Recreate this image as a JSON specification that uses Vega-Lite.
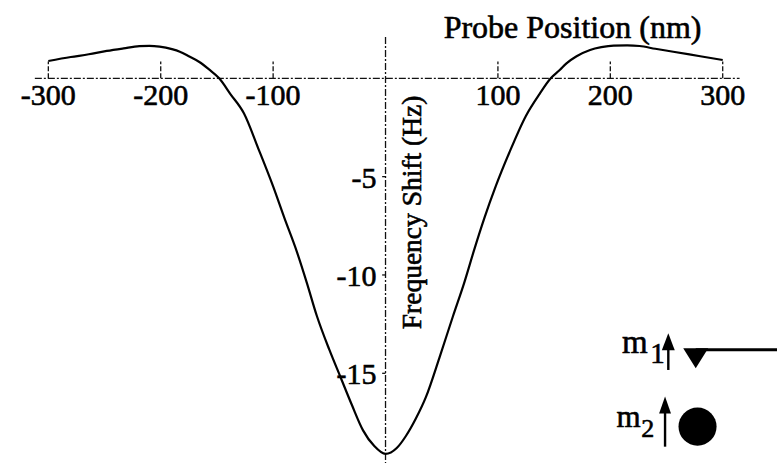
{
  "$schema": "https://vega.github.io/schema/vega-lite/v6.json",
  "width": 777,
  "height": 463,
  "padding": 0,
  "autosize": {"type": "none"},
  "background": "white",
  "config": {"view": {"stroke": null}, "text": {"font": "Liberation Serif", "color": "black", "stroke": "black", "strokeWidth": 0.6}},
  "data": {"values": [{}]},
  "datasets": {
    "curve": [
      {"x": -300, "y": 0.88}, {"x": -280, "y": 1.08}, {"x": -264, "y": 1.22}, {"x": -248, "y": 1.39},
      {"x": -233, "y": 1.52}, {"x": -219, "y": 1.63}, {"x": -210, "y": 1.65}, {"x": -201, "y": 1.61},
      {"x": -190, "y": 1.48}, {"x": -183, "y": 1.35}, {"x": -175, "y": 1.12}, {"x": -166, "y": 0.84},
      {"x": -157, "y": 0.45}, {"x": -148, "y": 0.0}, {"x": -138, "y": -0.8}, {"x": -126, "y": -1.78},
      {"x": -113, "y": -3.6}, {"x": -100, "y": -5.5}, {"x": -90, "y": -7.1}, {"x": -79, "y": -8.8},
      {"x": -70, "y": -10.4}, {"x": -61, "y": -12.1}, {"x": -50, "y": -13.8}, {"x": -40, "y": -15.2},
      {"x": -30, "y": -16.6}, {"x": -20, "y": -17.9}, {"x": -10, "y": -18.7}, {"x": 0, "y": -19.1},
      {"x": 10, "y": -18.8}, {"x": 18, "y": -18.2}, {"x": 27, "y": -17.3}, {"x": 36, "y": -16.2},
      {"x": 48, "y": -14.2}, {"x": 60, "y": -12.1}, {"x": 70, "y": -10.4}, {"x": 79, "y": -8.7},
      {"x": 88, "y": -7.1}, {"x": 98, "y": -5.5}, {"x": 110, "y": -3.8}, {"x": 125, "y": -1.9},
      {"x": 137, "y": -0.8}, {"x": 147, "y": 0.0}, {"x": 155, "y": 0.42}, {"x": 161, "y": 0.76},
      {"x": 170, "y": 1.12}, {"x": 182, "y": 1.44}, {"x": 192, "y": 1.58}, {"x": 203, "y": 1.66},
      {"x": 215, "y": 1.67}, {"x": 226, "y": 1.64}, {"x": 240, "y": 1.5}, {"x": 256, "y": 1.35},
      {"x": 280, "y": 1.12}, {"x": 300, "y": 0.93}
    ],
    "xticks": [
      {"v": -300, "label": "-300"}, {"v": -200, "label": "-200"}, {"v": -100, "label": "-100"},
      {"v": 100, "label": "100"}, {"v": 200, "label": "200"}, {"v": 300, "label": "300"}
    ],
    "yticks": [
      {"v": -5, "label": "-5"}, {"v": -10, "label": "-10"}, {"v": -15, "label": "-15"}
    ]
  },
  "layer": [
    {
      "mark": {"type": "rule", "stroke": "#111", "strokeWidth": 1.3, "strokeDash": [7, 2, 2, 2]},
      "encoding": {
        "x": {"datum": -312, "type": "quantitative", "scale": {"domain": [-343, 348.3], "nice": false, "zero": false}, "axis": null},
        "x2": {"datum": 315},
        "y": {"datum": 0, "type": "quantitative", "scale": {"domain": [-19.56, 3.98], "nice": false, "zero": false}, "axis": null}
      }
    },
    {
      "mark": {"type": "rule", "stroke": "#111", "strokeWidth": 1.3, "strokeDash": [7, 2, 2, 2]},
      "encoding": {
        "x": {"datum": 0, "type": "quantitative", "scale": {"domain": [-343, 348.3], "nice": false, "zero": false}, "axis": null},
        "y": {"datum": 2.1, "type": "quantitative", "scale": {"domain": [-19.56, 3.98], "nice": false, "zero": false}, "axis": null},
        "y2": {"datum": -19.6}
      }
    },
    {
      "data": {"name": "xticks"},
      "mark": {"type": "rule", "stroke": "#111", "strokeWidth": 1.3, "strokeDash": [5, 2]},
      "encoding": {
        "x": {"field": "v", "type": "quantitative", "scale": {"domain": [-343, 348.3], "nice": false, "zero": false}, "axis": null},
        "y": {"datum": 0, "type": "quantitative", "scale": {"domain": [-19.56, 3.98], "nice": false, "zero": false}, "axis": null},
        "y2": {"datum": 0.85}
      }
    },
    {
      "data": {"name": "xticks"},
      "mark": {"type": "text", "fontSize": 30, "align": "center", "baseline": "alphabetic"},
      "encoding": {
        "x": {"field": "v", "type": "quantitative", "scale": {"domain": [-343, 348.3], "nice": false, "zero": false}, "axis": null},
        "y": {"datum": -1.36, "type": "quantitative", "scale": {"domain": [-19.56, 3.98], "nice": false, "zero": false}, "axis": null},
        "text": {"field": "label"}
      }
    },
    {
      "data": {"name": "yticks"},
      "mark": {"type": "rule", "stroke": "#111", "strokeWidth": 1.3},
      "encoding": {
        "x": {"datum": -3, "type": "quantitative", "scale": {"domain": [-343, 348.3], "nice": false, "zero": false}, "axis": null},
        "x2": {"datum": 0},
        "y": {"field": "v", "type": "quantitative", "scale": {"domain": [-19.56, 3.98], "nice": false, "zero": false}, "axis": null}
      }
    },
    {
      "data": {"name": "yticks"},
      "mark": {"type": "text", "fontSize": 30, "align": "right", "baseline": "middle", "dx": -9, "dy": 2},
      "encoding": {
        "x": {"datum": 0, "type": "quantitative", "scale": {"domain": [-343, 348.3], "nice": false, "zero": false}, "axis": null},
        "y": {"field": "v", "type": "quantitative", "scale": {"domain": [-19.56, 3.98], "nice": false, "zero": false}, "axis": null},
        "text": {"field": "label"}
      }
    },
    {
      "data": {"name": "curve"},
      "mark": {"type": "line", "stroke": "black", "strokeWidth": 2.2, "interpolate": "monotone"},
      "encoding": {
        "x": {"field": "x", "type": "quantitative", "scale": {"domain": [-343, 348.3], "nice": false, "zero": false}, "axis": null},
        "y": {"field": "y", "type": "quantitative", "scale": {"domain": [-19.56, 3.98], "nice": false, "zero": false}, "axis": null}
      }
    },
    {
      "mark": {"type": "text", "text": "Probe Position (nm)", "fontSize": 32, "align": "center", "baseline": "alphabetic"},
      "encoding": {
        "x": {"datum": 166.4, "type": "quantitative", "scale": {"domain": [-343, 348.3], "nice": false, "zero": false}, "axis": null},
        "y": {"datum": 2.03, "type": "quantitative", "scale": {"domain": [-19.56, 3.98], "nice": false, "zero": false}, "axis": null}
      }
    },
    {
      "mark": {"type": "text", "text": "Frequency Shift (Hz)", "fontSize": 27.5, "angle": 270, "align": "center", "baseline": "alphabetic"},
      "encoding": {
        "x": {"datum": 31.6, "type": "quantitative", "scale": {"domain": [-343, 348.3], "nice": false, "zero": false}, "axis": null},
        "y": {"datum": -6.82, "type": "quantitative", "scale": {"domain": [-19.56, 3.98], "nice": false, "zero": false}, "axis": null}
      }
    },
    {
      "mark": {"type": "text", "text": "m", "fontSize": 33, "align": "left", "baseline": "alphabetic"},
      "encoding": {
        "x": {"datum": 210.5, "type": "quantitative", "scale": {"domain": [-343, 348.3], "nice": false, "zero": false}, "axis": null},
        "y": {"datum": -13.96, "type": "quantitative", "scale": {"domain": [-19.56, 3.98], "nice": false, "zero": false}, "axis": null}
      }
    },
    {
      "mark": {"type": "text", "text": "1", "fontSize": 29, "align": "left", "baseline": "alphabetic"},
      "encoding": {
        "x": {"datum": 235.5, "type": "quantitative", "scale": {"domain": [-343, 348.3], "nice": false, "zero": false}, "axis": null},
        "y": {"datum": -14.47, "type": "quantitative", "scale": {"domain": [-19.56, 3.98], "nice": false, "zero": false}, "axis": null}
      }
    },
    {
      "mark": {"type": "text", "text": "m", "fontSize": 31, "align": "left", "baseline": "alphabetic"},
      "encoding": {
        "x": {"datum": 205.5, "type": "quantitative", "scale": {"domain": [-343, 348.3], "nice": false, "zero": false}, "axis": null},
        "y": {"datum": -17.71, "type": "quantitative", "scale": {"domain": [-19.56, 3.98], "nice": false, "zero": false}, "axis": null}
      }
    },
    {
      "mark": {"type": "text", "text": "2", "fontSize": 26, "align": "left", "baseline": "alphabetic"},
      "encoding": {
        "x": {"datum": 227.5, "type": "quantitative", "scale": {"domain": [-343, 348.3], "nice": false, "zero": false}, "axis": null},
        "y": {"datum": -18.22, "type": "quantitative", "scale": {"domain": [-19.56, 3.98], "nice": false, "zero": false}, "axis": null}
      }
    },
    {
      "mark": {"type": "rule", "stroke": "black", "strokeWidth": 2.4},
      "encoding": {
        "x": {"datum": 251.6, "type": "quantitative", "scale": {"domain": [-343, 348.3], "nice": false, "zero": false}, "axis": null},
        "y": {"datum": -14.83, "type": "quantitative", "scale": {"domain": [-19.56, 3.98], "nice": false, "zero": false}, "axis": null},
        "y2": {"datum": -13.6}
      }
    },
    {
      "mark": {"type": "point", "shape": "M0,-1L0.76,1L-0.76,1Z", "size": 289, "filled": true, "color": "black", "opacity": 1},
      "encoding": {
        "x": {"datum": 251.6, "type": "quantitative", "scale": {"domain": [-343, 348.3], "nice": false, "zero": false}, "axis": null},
        "y": {"datum": -13.39, "type": "quantitative", "scale": {"domain": [-19.56, 3.98], "nice": false, "zero": false}, "axis": null}
      }
    },
    {
      "mark": {"type": "rule", "stroke": "black", "strokeWidth": 2.4},
      "encoding": {
        "x": {"datum": 248.7, "type": "quantitative", "scale": {"domain": [-343, 348.3], "nice": false, "zero": false}, "axis": null},
        "y": {"datum": -18.73, "type": "quantitative", "scale": {"domain": [-19.56, 3.98], "nice": false, "zero": false}, "axis": null},
        "y2": {"datum": -16.8}
      }
    },
    {
      "mark": {"type": "point", "shape": "M0,-1L0.7,1L-0.7,1Z", "size": 289, "filled": true, "color": "black", "opacity": 1},
      "encoding": {
        "x": {"datum": 248.7, "type": "quantitative", "scale": {"domain": [-343, 348.3], "nice": false, "zero": false}, "axis": null},
        "y": {"datum": -16.61, "type": "quantitative", "scale": {"domain": [-19.56, 3.98], "nice": false, "zero": false}, "axis": null}
      }
    },
    {
      "mark": {"type": "rule", "stroke": "black", "strokeWidth": 3},
      "encoding": {
        "x": {"datum": 276, "type": "quantitative", "scale": {"domain": [-343, 348.3], "nice": false, "zero": false}, "axis": null},
        "x2": {"datum": 350},
        "y": {"datum": -13.8, "type": "quantitative", "scale": {"domain": [-19.56, 3.98], "nice": false, "zero": false}, "axis": null}
      }
    },
    {
      "mark": {"type": "point", "shape": "M-1,-0.8L1,-0.8L0,0.8Z", "size": 625, "filled": true, "color": "black", "opacity": 1},
      "encoding": {
        "x": {"datum": 276, "type": "quantitative", "scale": {"domain": [-343, 348.3], "nice": false, "zero": false}, "axis": null},
        "y": {"datum": -14.23, "type": "quantitative", "scale": {"domain": [-19.56, 3.98], "nice": false, "zero": false}, "axis": null}
      }
    },
    {
      "mark": {"type": "point", "shape": "circle", "size": 1450, "filled": true, "color": "black", "opacity": 1},
      "encoding": {
        "x": {"datum": 277.6, "type": "quantitative", "scale": {"domain": [-343, 348.3], "nice": false, "zero": false}, "axis": null},
        "y": {"datum": -17.71, "type": "quantitative", "scale": {"domain": [-19.56, 3.98], "nice": false, "zero": false}, "axis": null}
      }
    }
  ]
}
